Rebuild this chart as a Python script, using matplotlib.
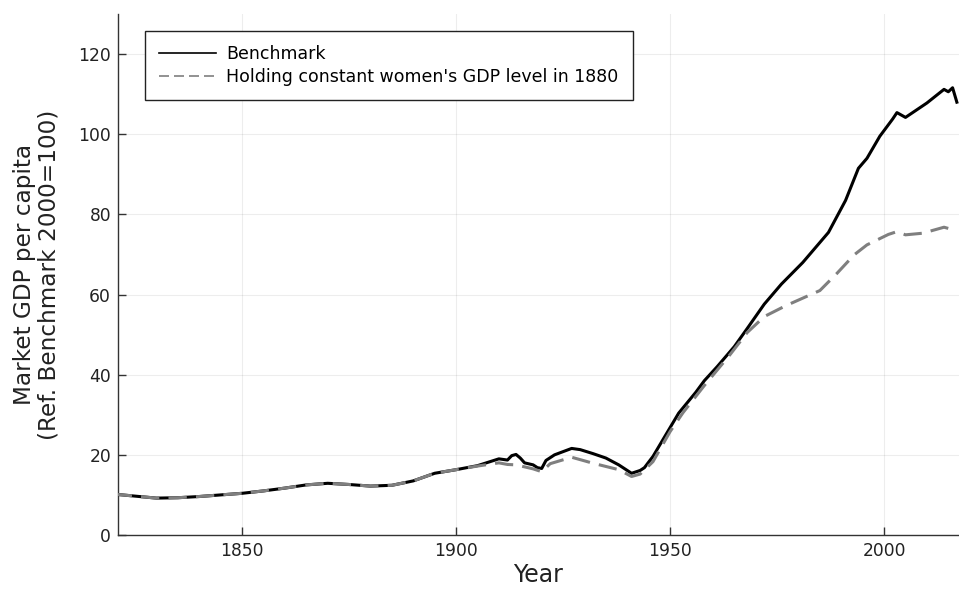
import matplotlib.pyplot as plt
from matplotlib.lines import Line2D
import numpy as np

# Benchmark series
years_bench = [1820, 1825, 1830, 1835, 1840, 1845, 1850, 1855, 1860, 1865,
               1870, 1875, 1880, 1885, 1890, 1895, 1900, 1905, 1910, 1912,
               1913, 1914, 1915, 1916, 1918, 1919, 1920, 1921, 1923, 1927,
               1929, 1932, 1935, 1938, 1941, 1943, 1944, 1946, 1949, 1952,
               1956, 1958, 1961, 1965, 1968, 1972, 1976, 1981, 1985, 1987,
               1991, 1994, 1996, 1999, 2002, 2003, 2005, 2010, 2014, 2015,
               2016, 2017]
gdp_bench = [10.2, 9.7, 9.2, 9.3, 9.6, 10.0, 10.4, 11.0, 11.7, 12.5,
             12.9, 12.6, 12.2, 12.4, 13.5, 15.4, 16.3, 17.3, 19.0, 18.7,
             19.8, 20.1, 19.2, 18.0, 17.5, 16.8, 16.6, 18.6, 20.0, 21.6,
             21.3, 20.3, 19.2, 17.5, 15.4, 16.1, 16.8, 19.6, 25.0, 30.4,
             35.6, 38.5, 42.0, 47.0, 51.5, 57.6, 62.6, 68.0, 73.0, 75.5,
             83.5, 91.5, 94.0, 99.5, 103.8, 105.4, 104.2, 107.8, 111.2, 110.6,
             111.6, 108.0]

# Counterfactual series: women's GDP held at its 1880 level
years_const = [1820, 1825, 1830, 1835, 1840, 1845, 1850, 1855, 1860, 1865,
               1870, 1875, 1880, 1885, 1890, 1895, 1900, 1905, 1910, 1912,
               1914, 1916, 1918, 1920, 1922, 1927, 1932, 1938, 1941, 1943,
               1946, 1950, 1953, 1958, 1964, 1968, 1972, 1977, 1985, 1989,
               1993, 1996, 2001, 2003, 2005, 2009, 2014, 2017]
gdp_const = [10.2, 9.7, 9.2, 9.3, 9.6, 10.0, 10.4, 11.0, 11.7, 12.5,
             12.9, 12.6, 12.2, 12.4, 13.5, 15.4, 16.3, 17.2, 18.0, 17.6,
             17.5, 17.0, 16.5, 15.8, 17.8, 19.4, 17.9, 16.3, 14.6, 15.2,
             18.3, 25.8, 30.5, 37.3, 45.0, 50.5, 54.5, 57.2, 61.0, 65.3,
             69.9, 72.4, 75.0, 75.7, 74.9, 75.3, 76.8, 75.9]

fig = plt.figure(figsize=(9.59, 5.89), dpi=100)
ax = fig.add_axes([0.123, 0.0917, 0.877, 0.8845])

ax.plot(years_bench, gdp_bench, color='black', lw=2.2, zorder=3)
ax.plot(years_const, gdp_const, color='#7f7f7f', lw=2.2, dashes=(6, 3), zorder=4)

ax.set_xlim(1821, 2017.5)
ax.set_ylim(0, 130)
ax.set_xticks([1850, 1900, 1950, 2000])
ax.set_yticks(np.arange(0, 121, 20))

ax.grid(True, color='#000000', alpha=0.07, lw=0.8)
ax.set_axisbelow(True)
for side in ['top', 'right']:
    ax.spines[side].set_visible(False)
for side in ['left', 'bottom']:
    ax.spines[side].set_color('#333333')
    ax.spines[side].set_linewidth(1.0)
ax.tick_params(direction='in', length=6, width=1, color='#333333',
               labelsize=12.3, labelcolor='#222222', pad=5)

ax.set_xlabel('Year', fontsize=17, color='#222222', labelpad=2)
ax.set_ylabel('Market GDP per capita\n(Ref. Benchmark 2000=100)', fontsize=16.7,
              color='#222222', labelpad=13, linespacing=1.05)

handles = [Line2D([], [], color='black', lw=1.2),
           Line2D([], [], color='#7f7f7f', lw=1.2, dashes=(6, 3))]
leg = ax.legend(handles, ['Benchmark', "Holding constant women's GDP level in 1880"],
                loc='upper left', bbox_to_anchor=(0.032, 0.967), borderaxespad=0,
                fontsize=12.5, fancybox=False, framealpha=1, edgecolor='#222222',
                handlelength=3.3, handletextpad=0.6, borderpad=0.8, labelspacing=0.3)
leg.get_frame().set_linewidth(1.0)

fig.savefig('out.png', dpi=100)
